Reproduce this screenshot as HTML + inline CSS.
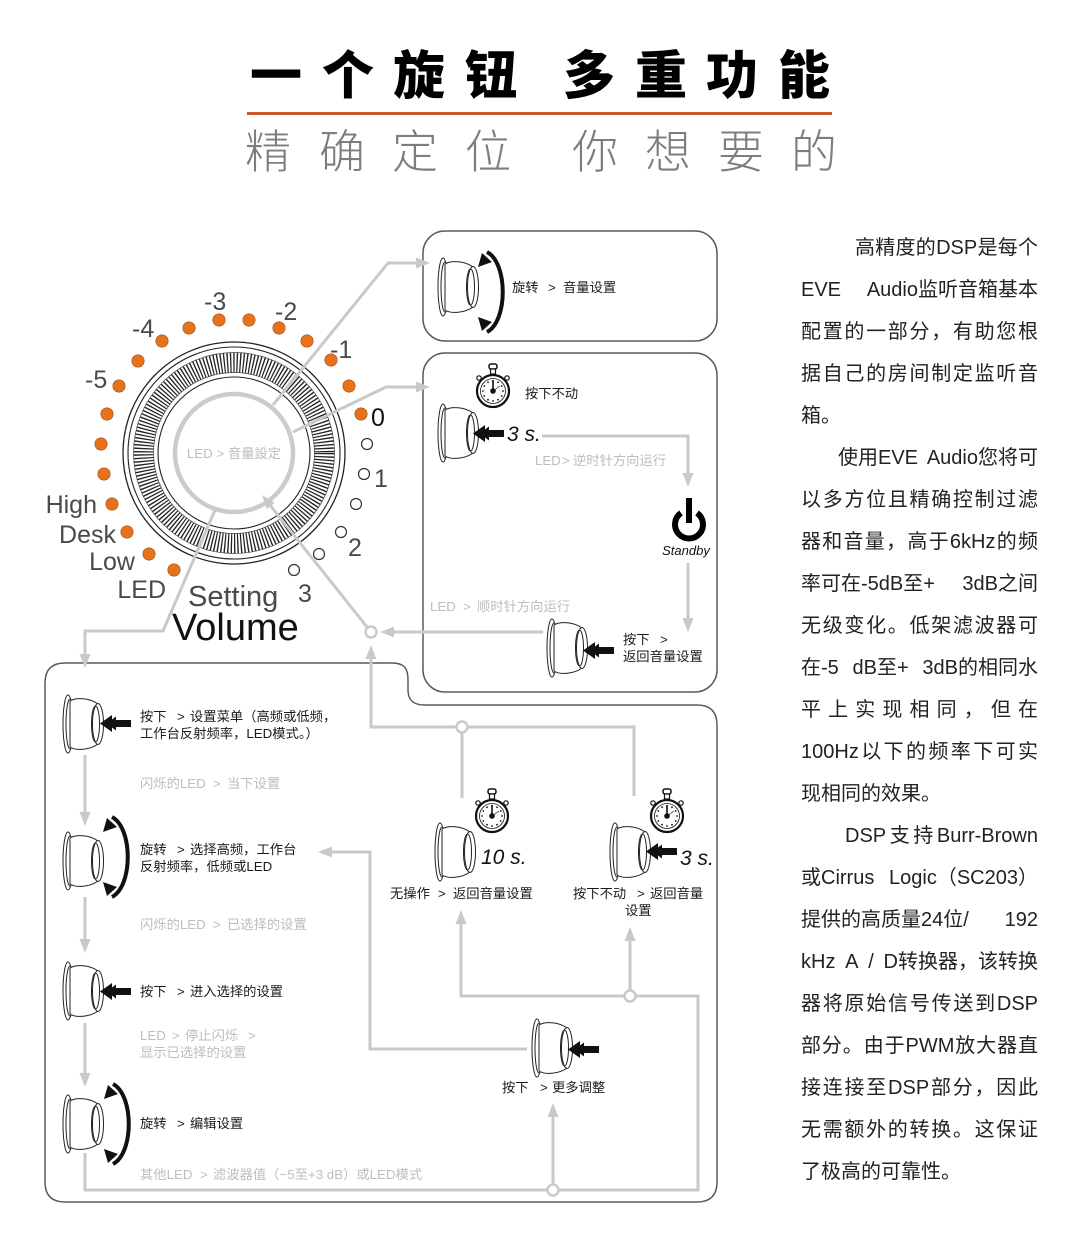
<!DOCTYPE html>
<html lang="zh-CN"><head><meta charset="utf-8">
<style>
html,body{margin:0;padding:0;background:#fff;width:1080px;height:1250px;overflow:hidden}
#wrap{position:relative;width:1080px;height:1250px}
svg{position:absolute;left:0;top:0}
.rt{position:absolute;left:801px;top:227px;width:237px;font-family:"Liberation Sans","Noto Sans CJK SC",sans-serif;font-size:20px;color:#222;line-height:42px}
.rt div{height:42px;overflow:hidden;text-align:justify;text-align-last:justify}
.rt div.l{text-align:left;text-align-last:left}
.rt div.f{display:flex;justify-content:space-between}
.c{font-family:"Liberation Sans","Noto Sans CJK SC",sans-serif;font-size:13.3px;fill:#1c1c1c}
.g{fill:#bdbdbd}
.it{font-family:"Liberation Sans",sans-serif;font-style:italic;font-size:21px;fill:#111}
.n{font-family:"Liberation Sans",sans-serif;font-size:25px;fill:#4a4a4a}
.ln{stroke:#c9c9c9;stroke-width:3;fill:none}
.ah{fill:#c9c9c9}
.box{stroke:#5a5a5a;stroke-width:1.5;fill:none}
.nd{fill:#fff;stroke:#c9c9c9;stroke-width:2.5}
.od{fill:#e8711c;stroke:#9a5018;stroke-width:0.6}
.wd{fill:#fff;stroke:#333;stroke-width:1.2}
</style></head><body><div id="wrap">
<svg width="1080" height="1250" viewBox="0 0 1080 1250">
<defs>
 <symbol id="kb" viewBox="0 0 42 60" overflow="visible">
  <g stroke="#222" stroke-width="1" fill="#fff">
   <ellipse cx="6" cy="30" rx="5" ry="29"/>
   <ellipse cx="8" cy="30" rx="4" ry="25"/>
   <path d="M8,7 C14,3 28,4 36,10 L36,50 C28,56 14,57 8,53 Z"/>
   <ellipse cx="36" cy="30" rx="5.5" ry="20.5"/>
   <ellipse cx="33.5" cy="30" rx="4" ry="18" fill="none"/>
  </g>
 </symbol>
 <symbol id="rot" viewBox="0 0 26 84" overflow="visible">
  <path d="M9,2 C30,13 30,71 9,82" stroke="#111" stroke-width="4" fill="none"/>
  <polygon points="0,17 4,3 14,12" fill="#111"/>
  <polygon points="0,67 4,81 14,72" fill="#111"/>
 </symbol>
 <symbol id="push" viewBox="0 0 31 17" overflow="visible">
  <polygon points="0,8.5 12,0 12,4.5 16,1.5 16,5 31,5 31,12 16,12 16,15.5 12,12.5 12,17" fill="#111"/>
 </symbol>
 <symbol id="sw" viewBox="0 0 40 48" overflow="visible">
  <g stroke="#111" fill="#fff">
   <rect x="16" y="1" width="8" height="5" rx="2" stroke-width="1.5"/>
   <rect x="17.5" y="6" width="5" height="5" stroke-width="1.2"/>
   <circle cx="6" cy="15" r="2.2" stroke-width="1.2"/>
   <circle cx="34" cy="15" r="2.2" stroke-width="1.2"/>
   <circle cx="20" cy="28" r="16" stroke-width="2.2"/>
   <circle cx="20" cy="28" r="12.5" stroke-width="0.8"/>
  </g>
  <g fill="#111">
   <circle cx="20" cy="18" r="0.9"/><circle cx="25" cy="19.3" r="0.9"/><circle cx="28.7" cy="23" r="0.9"/>
   <circle cx="30" cy="28" r="0.9"/><circle cx="28.7" cy="33" r="0.9"/><circle cx="25" cy="36.7" r="0.9"/>
   <circle cx="20" cy="38" r="0.9"/><circle cx="15" cy="36.7" r="0.9"/><circle cx="11.3" cy="33" r="0.9"/>
   <circle cx="10" cy="28" r="0.9"/><circle cx="11.3" cy="23" r="0.9"/><circle cx="15" cy="19.3" r="0.9"/>
   <circle cx="20" cy="28" r="2.8"/>
  </g>
  <line x1="20" y1="28" x2="20" y2="17" stroke="#111" stroke-width="1.6"/>
  <line x1="20" y1="28" x2="27" y2="23" stroke="#111" stroke-width="0.6"/>
 </symbol>
</defs>

<!-- Title -->
<text x="250 322 393 465 563 635 706 778" y="94" font-size="52" font-weight="900" fill="#000" font-family="'Liberation Sans','Noto Sans CJK SC',sans-serif">一个旋钮多重功能</text>
<rect x="247" y="112" width="585" height="3" fill="#c55a28"/>
<text x="245 319 392 465 572 645 718 791" y="168" font-size="46" font-weight="300" fill="#7d7d7d" font-family="'Liberation Sans','Noto Sans CJK SC',sans-serif">精确定位你想要的</text>

<!-- Knob -->
<g transform="translate(234,453)">
 <circle r="111" fill="none" stroke="#222" stroke-width="1.3"/>
 <circle r="106" fill="none" stroke="#222" stroke-width="1.1"/>
 <circle r="90.5" fill="none" stroke="#222" stroke-width="20" stroke-dasharray="1.3 1.9"/>
 <circle r="100.5" fill="none" stroke="#444" stroke-width="0.7"/>
 <circle r="80.5" fill="none" stroke="#444" stroke-width="0.7"/>
 <circle r="76" fill="none" stroke="#222" stroke-width="1.1"/>
 <circle r="59" fill="none" stroke="#cbcbcb" stroke-width="4.5"/>
</g>
<text class="c g" x="234" y="458" text-anchor="middle" font-size="12.5">LED &gt; 音量設定</text>

<!-- LED dots -->
<circle class="od" cx="174" cy="570" r="6.2"/>
<circle class="od" cx="149" cy="554" r="6.2"/>
<circle class="od" cx="127" cy="532" r="6.2"/>
<circle class="od" cx="112" cy="504" r="6.2"/>
<circle class="od" cx="104" cy="474" r="6.2"/>
<circle class="od" cx="101" cy="444" r="6.2"/>
<circle class="od" cx="107" cy="414" r="6.2"/>
<circle class="od" cx="119" cy="386" r="6.2"/>
<circle class="od" cx="138" cy="361" r="6.2"/>
<circle class="od" cx="162" cy="341" r="6.2"/>
<circle class="od" cx="189" cy="328" r="6.2"/>
<circle class="od" cx="219" cy="320" r="6.2"/>
<circle class="od" cx="249" cy="320" r="6.2"/>
<circle class="od" cx="279" cy="328" r="6.2"/>
<circle class="od" cx="307" cy="341" r="6.2"/>
<circle class="od" cx="331" cy="360" r="6.2"/>
<circle class="od" cx="349" cy="386" r="6.2"/>
<circle class="od" cx="361" cy="414" r="6.2"/>
<circle class="wd" cx="367" cy="444" r="5.5"/>
<circle class="wd" cx="364" cy="474" r="5.5"/>
<circle class="wd" cx="356" cy="504" r="5.5"/>
<circle class="wd" cx="341" cy="532" r="5.5"/>
<circle class="wd" cx="319" cy="554" r="5.5"/>
<circle class="wd" cx="294" cy="570" r="5.5"/>

<!-- knob labels -->
<text class="n" x="85" y="388">-5</text>
<text class="n" x="132" y="337">-4</text>
<text class="n" x="204" y="310">-3</text>
<text class="n" x="275" y="320">-2</text>
<text class="n" x="330" y="358">-1</text>
<text class="n" x="371" y="426" style="fill:#111">0</text>
<text class="n" x="374" y="487">1</text>
<text class="n" x="348" y="556">2</text>
<text class="n" x="298" y="602">3</text>
<text class="n" x="97" y="513" text-anchor="end">High</text>
<text class="n" x="116" y="543" text-anchor="end">Desk</text>
<text class="n" x="135" y="570" text-anchor="end">Low</text>
<text class="n" x="166" y="598" text-anchor="end">LED</text>
<text class="n" x="188" y="606" style="font-size:29px">Setting</text>
<text class="n" x="172" y="640" style="font-size:38px;fill:#111">Volume</text>

<!-- boxes -->
<rect class="box" x="423" y="231" width="294" height="110" rx="22"/>
<rect class="box" x="423" y="353" width="294" height="339" rx="22"/>
<path class="box" d="M65,663 H392 C404,663 408,668 408,680 V690 C408,700 413,705 425,705 H697 Q717,705 717,725 V1182 Q717,1202 697,1202 H65 Q45,1202 45,1182 V683 Q45,663 65,663 Z"/>

<!-- connectors -->
<polyline class="ln" points="273,405 388,263 416,263"/>
<polygon class="ah" points="430,263 416,257.5 416,268.5"/>
<polyline class="ln" points="293,432 386,387 416,387"/>
<polygon class="ah" points="430,387 416,381.5 416,392.5"/>
<polyline class="ln" points="215,510 163,631 85,631 85,654"/>
<polygon class="ah" points="85,668 79.5,654 90.5,654"/>
<line class="ln" x1="371" y1="632" x2="270.7" y2="506"/>
<polygon class="ah" points="262,495 274.6,502.9 266.8,509.1"/>
<line class="ln" x1="543" y1="632" x2="394" y2="632"/>
<polygon class="ah" points="380,632 394,626.5 394,637.5"/>
<polyline class="ln" points="542,436 688,436 688,473"/>
<polygon class="ah" points="688,487 682.5,473 693.5,473"/>
<line class="ln" x1="688" y1="563" x2="688" y2="618"/>
<polygon class="ah" points="688,632 682.5,618 693.5,618"/>
<polyline class="ln" points="371,659 371,727 634,727 634,796"/>
<polygon class="ah" points="371,645 365.5,659 376.5,659"/>
<line class="ln" x1="462" y1="727" x2="462" y2="798"/>
<!-- left column -->
<line class="ln" x1="85" y1="755" x2="85" y2="812"/>
<polygon class="ah" points="85,826 79.5,812 90.5,812"/>
<line class="ln" x1="85" y1="897" x2="85" y2="939"/>
<polygon class="ah" points="85,953 79.5,939 90.5,939"/>
<line class="ln" x1="85" y1="1023" x2="85" y2="1073"/>
<polygon class="ah" points="85,1087 79.5,1073 90.5,1073"/>
<polyline class="ln" points="85,1153 85,1190 698,1190 698,996 461,996 461,924"/>
<polygon class="ah" points="461,910 455.5,924 466.5,924"/>
<line class="ln" x1="630" y1="996" x2="630" y2="941"/>
<polygon class="ah" points="630,927 624.5,941 635.5,941"/>
<line class="ln" x1="553" y1="1190" x2="553" y2="1117"/>
<polygon class="ah" points="553,1103 547.5,1117 558.5,1117"/>
<polyline class="ln" points="527,1049 370,1049 370,852 332,852"/>
<polygon class="ah" points="318,852 332,846.5 332,857.5"/>
<!-- nodes -->
<circle class="nd" cx="371" cy="632" r="5.5"/>
<circle class="nd" cx="462" cy="727" r="5.5"/>
<circle class="nd" cx="630" cy="996" r="5.5"/>
<circle class="nd" cx="553" cy="1190" r="5.5"/>

<!-- knob icons -->
<use href="#kb" x="437" y="257" width="42" height="60"/>
<use href="#rot" x="478" y="250" width="26" height="84"/>
<use href="#sw" x="473" y="363" width="40" height="48"/>
<use href="#kb" x="437" y="403" width="42" height="60"/>
<use href="#push" x="473" y="425" width="31" height="17"/>
<use href="#kb" x="546" y="618" width="42" height="60"/>
<use href="#push" x="583" y="642" width="31" height="17"/>

<use href="#kb" x="62" y="694" width="42" height="60"/>
<use href="#push" x="100" y="715" width="31" height="17"/>
<use href="#kb" x="62" y="831" width="42" height="60"/>
<use href="#rot" x="103" y="815" width="26" height="84"/>
<use href="#kb" x="62" y="961" width="42" height="60"/>
<use href="#push" x="100" y="983" width="31" height="17"/>
<use href="#kb" x="62" y="1094" width="42" height="60"/>
<use href="#rot" x="104" y="1082" width="26" height="84"/>

<use href="#sw" x="472" y="788" width="40" height="48"/>
<use href="#kb" x="434" y="822" width="42" height="60"/>
<use href="#sw" x="647" y="788" width="40" height="48"/>
<use href="#kb" x="609" y="822" width="42" height="60"/>
<use href="#push" x="646" y="843" width="31" height="17"/>
<use href="#kb" x="531" y="1018" width="42" height="60"/>
<use href="#push" x="568" y="1041" width="31" height="17"/>

<!-- standby -->
<path d="M681,513 A14 14 0 1 0 697,513" stroke="#000" stroke-width="6" fill="none"/>
<line x1="689" y1="498" x2="689" y2="523" stroke="#000" stroke-width="6"/>
<text x="686" y="555" text-anchor="middle" font-family="'Liberation Sans',sans-serif" font-style="italic" font-size="13" fill="#111">Standby</text>

<!-- box texts -->
<text class="c" x="512" y="292">旋转</text><text class="c" x="548" y="292">&gt;</text><text class="c" x="563" y="292">音量设置</text>
<text class="c" x="525" y="398">按下不动</text>
<text class="it" x="507" y="441">3 s.</text>
<text class="c g" x="535" y="465">LED</text><text class="c g" x="562" y="465">&gt;</text><text class="c g" x="573" y="465">逆时针方向运行</text>
<text class="c g" x="430" y="611">LED</text><text class="c g" x="463" y="611">&gt;</text><text class="c g" x="477" y="611">顺时针方向运行</text>
<text class="c" x="623" y="644">按下</text><text class="c" x="660" y="644">&gt;</text>
<text class="c" x="623" y="661">返回音量设置</text>

<!-- left texts -->
<text class="c" x="140" y="721">按下</text><text class="c" x="177" y="721">&gt;</text><text class="c" x="190" y="721">设置菜单（高频或低频，</text>
<text class="c" x="140" y="738">工作台反射频率，LED模式。）</text>
<text class="c g" x="140" y="788">闪烁的LED</text><text class="c g" x="213" y="788">&gt;</text><text class="c g" x="227" y="788">当下设置</text>
<text class="c" x="140" y="854">旋转</text><text class="c" x="177" y="854">&gt;</text><text class="c" x="190" y="854">选择高频，工作台</text>
<text class="c" x="140" y="871">反射频率，低频或LED</text>
<text class="c g" x="140" y="929">闪烁的LED</text><text class="c g" x="213" y="929">&gt;</text><text class="c g" x="227" y="929">已选择的设置</text>
<text class="c" x="140" y="996">按下</text><text class="c" x="177" y="996">&gt;</text><text class="c" x="190" y="996">进入选择的设置</text>
<text class="c g" x="140" y="1040">LED</text><text class="c g" x="172" y="1040">&gt;</text><text class="c g" x="185" y="1040">停止闪烁</text><text class="c g" x="248" y="1040">&gt;</text>
<text class="c g" x="140" y="1057">显示已选择的设置</text>
<text class="c" x="140" y="1128">旋转</text><text class="c" x="177" y="1128">&gt;</text><text class="c" x="190" y="1128">编辑设置</text>
<text class="c g" x="140" y="1179">其他LED</text><text class="c g" x="200" y="1179">&gt;</text><text class="c g" x="213" y="1179">滤波器值（−5至+3 dB）或LED模式</text>

<!-- right-bottom texts -->
<text class="it" x="481" y="864">10 s.</text>
<text class="it" x="680" y="865">3 s.</text>
<text class="c" x="390" y="898">无操作</text><text class="c" x="438" y="898">&gt;</text><text class="c" x="453" y="898">返回音量设置</text>
<text class="c" x="573" y="898">按下不动</text><text class="c" x="637" y="898">&gt;</text><text class="c" x="650" y="898">返回音量</text>
<text class="c" x="625" y="915">设置</text>
<text class="c" x="502" y="1092">按下</text><text class="c" x="540" y="1092">&gt;</text><text class="c" x="552" y="1092">更多调整</text>
</svg>

<div class="rt">
<div style="padding-left:54px">高精度的DSP是每个</div>
<div class="f"><span>EVE</span><span>Audio监听音箱基本</span></div>
<div>配置的一部分，有助您根</div>
<div>据自己的房间制定监听音</div>
<div class="l">箱。</div>
<div class="f" style="padding-left:37px"><span>使用EVE</span><span>Audio您将可</span></div>
<div>以多方位且精确控制过滤</div>
<div>器和音量，高于6kHz的频</div>
<div class="f"><span>率可在-5dB至+</span><span>3dB之间</span></div>
<div>无级变化。低架滤波器可</div>
<div class="f"><span>在-5</span><span>dB至+</span><span>3dB的相同水</span></div>
<div>平上实现相同，但在</div>
<div>100Hz以下的频率下可实</div>
<div class="l">现相同的效果。</div>
<div style="padding-left:44px">DSP支持Burr-Brown</div>
<div class="f"><span>或Cirrus</span><span>Logic（SC203）</span></div>
<div class="f"><span>提供的高质量24位/</span><span>192</span></div>
<div class="f"><span>kHz</span><span>A</span><span>/</span><span>D转换器，该转换</span></div>
<div>器将原始信号传送到DSP</div>
<div>部分。由于PWM放大器直</div>
<div>接连接至DSP部分，因此</div>
<div>无需额外的转换。这保证</div>
<div class="l">了极高的可靠性。</div>
</div>
</div></body></html>
